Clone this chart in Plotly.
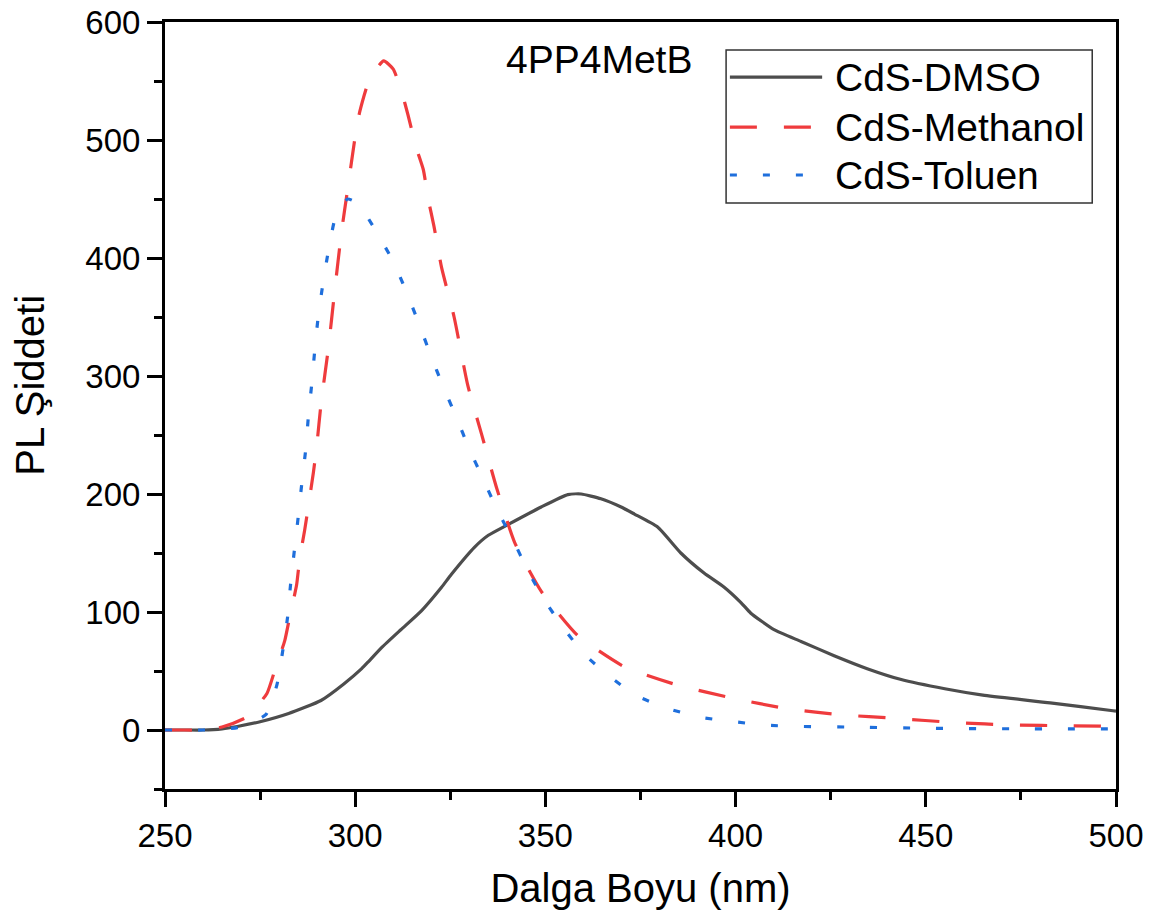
import plotly.graph_objects as go

# ---- data ----
dmso_x = [250, 255, 260, 265, 269, 275, 282.5, 291, 297, 301.7, 303.5, 307, 312, 317.4, 322.7,
          325.3, 331.4, 335, 340.1, 348.9, 355.9, 359.4, 364.6, 369.9, 373.4, 379.5, 385.6,
          391.7, 397, 401.4, 404, 410.1, 417.2, 425.9, 434.6, 443.3, 455, 465, 482.7, 499.2, 500]
dmso_y = [0, 0, 0, 1, 3, 7, 14, 25, 39, 52, 58, 70, 85, 101, 121,
          132, 155, 165, 174, 189, 199.5, 200, 196, 189, 183, 172, 150,
          133, 121, 108, 99, 85, 75, 63, 52, 43, 35, 29.6, 23, 16.3, 16]

meth_x = [250, 255, 260, 265, 271.5, 276.8, 278.9, 281.5, 282.8, 284.6, 285.4, 286.7, 287.8,
          289, 289.9, 291, 293, 294.6, 296.4, 298, 300.1, 301.2, 303.8, 307.5, 310, 312.2,
          313.9, 316, 317.9, 319.2, 320.7, 322.7, 326, 329.6, 333.2, 337.1, 341.9, 349,
          358.5, 370.8, 384.8, 399.2, 413.6, 428.5, 441.6, 458, 473, 488, 500]
meth_y = [0, 0, 0, 2.5, 11, 31, 51, 76, 96, 123, 145, 169, 192,
          218, 241, 276, 325, 372, 422, 458, 505, 524, 552, 567, 560, 541,
          521, 494, 475, 450, 427, 392, 350, 292, 251, 206, 159, 117,
          80, 53.5, 38, 27, 18, 12.7, 10, 6.2, 4.2, 3.6, 3]

tol_x = [250, 255, 260, 265, 269, 276.5, 279.4, 280.9, 282.2, 283, 284, 285, 286, 287, 287.7,
         288.6, 289.4, 290.3, 291.6, 293, 295, 298, 300.8, 305.6, 310, 313.5, 316.8, 319.8,
         323, 326.6, 330, 333.6, 337.4, 341.5, 345.4, 349.6, 354.6, 360.3, 366.6, 374,
         382.4, 390.9, 399.6, 408.4, 417.2, 430, 450, 475, 500]
tol_y = [0, 0, 0, 1, 2, 13, 38, 66, 95, 123, 152, 180, 210, 238, 266,
         294, 323, 351, 380, 407, 437, 450, 446, 422, 397, 371, 344, 318,
         292, 265, 238, 213, 186, 161, 135, 111, 87, 64, 46, 29,
         18, 10.7, 7, 4, 3, 2.5, 1.5, 1, 1]

series_names = ["CdS-DMSO", "CdS-Methanol", "CdS-Toluen"]
series_colors = ["#4d4d4d", "#ef3b3d", "#1f6fdc"]
series_dash = ["solid", "27px,27px", "7px,26px"]
x_ticks = [250, 300, 350, 400, 450, 500]
y_ticks = [0, 100, 200, 300, 400, 500, 600]

FONT = "Liberation Sans, Arial, sans-serif"

fig = go.Figure()
for xs, ys, name, col, dash in zip([dmso_x, meth_x, tol_x], [dmso_y, meth_y, tol_y],
                                   series_names, series_colors, series_dash):
    fig.add_trace(go.Scatter(x=xs, y=ys, mode="lines", name=name,
                             line=dict(color=col, width=3.2, dash=dash, shape="spline", smoothing=0.5)))

# custom legend (box, line samples, labels) in paper coordinates
lg_x0, lg_x1, lg_y0, lg_y1 = 0.590, 0.975, 0.764, 0.9635
fig.add_shape(type="rect", xref="paper", yref="paper", x0=lg_x0, x1=lg_x1, y0=lg_y0, y1=lg_y1,
              line=dict(color="#333333", width=1.5), fillcolor="rgba(0,0,0,0)")
row_y = [0.928, 0.863, 0.8005]
for ry, name, col, dash in zip(row_y, series_names, series_colors, series_dash):
    fig.add_shape(type="line", xref="paper", yref="paper", x0=0.594, x1=0.691, y0=ry, y1=ry,
                  line=dict(color=col, width=3.2, dash=dash))
    fig.add_annotation(xref="paper", yref="paper", x=0.7024, y=ry, text=name, showarrow=False,
                       xanchor="left", yanchor="middle", font=dict(family=FONT, size=39, color="black"))

fig.add_annotation(xref="paper", yref="paper", x=0.456, y=0.9505, text="4PP4MetB", showarrow=False,
                   xanchor="center", yanchor="middle", font=dict(family=FONT, size=39, color="black"))

# y-axis title placed as rotated text
fig.add_annotation(xref="paper", yref="paper", x=-0.142, y=0.527, text="PL Şiddeti", showarrow=False,
                   textangle=-90, xanchor="center", yanchor="middle",
                   font=dict(family=FONT, size=40, color="black"))

axis_common = dict(showline=True, linecolor="black", linewidth=3, mirror=True,
                   ticks="outside", ticklen=15, tickwidth=3, tickcolor="black",
                   showgrid=False, zeroline=False, ticklabeloverflow="allow",
                   tickfont=dict(family=FONT, size=33, color="black"))

fig.update_xaxes(range=[250, 500], tickvals=x_ticks,
                 minor=dict(ticks="outside", ticklen=8, tickwidth=3, tickcolor="black", dtick=25, tick0=250),
                 title=dict(text="Dalga Boyu (nm)", font=dict(family=FONT, size=40, color="black"), standoff=22),
                 **axis_common)
fig.update_yaxes(range=[-50, 600], tickvals=y_ticks,
                 minor=dict(ticks="outside", ticklen=8, tickwidth=3, tickcolor="black", dtick=50, tick0=0),
                 **axis_common)

fig.update_layout(width=1151, height=908, showlegend=False,
                  plot_bgcolor="white", paper_bgcolor="white",
                  margin=dict(l=157, r=43, t=14, b=127, autoexpand=False),
                  font=dict(family=FONT, color="black"))

fig.write_html("out.html")
